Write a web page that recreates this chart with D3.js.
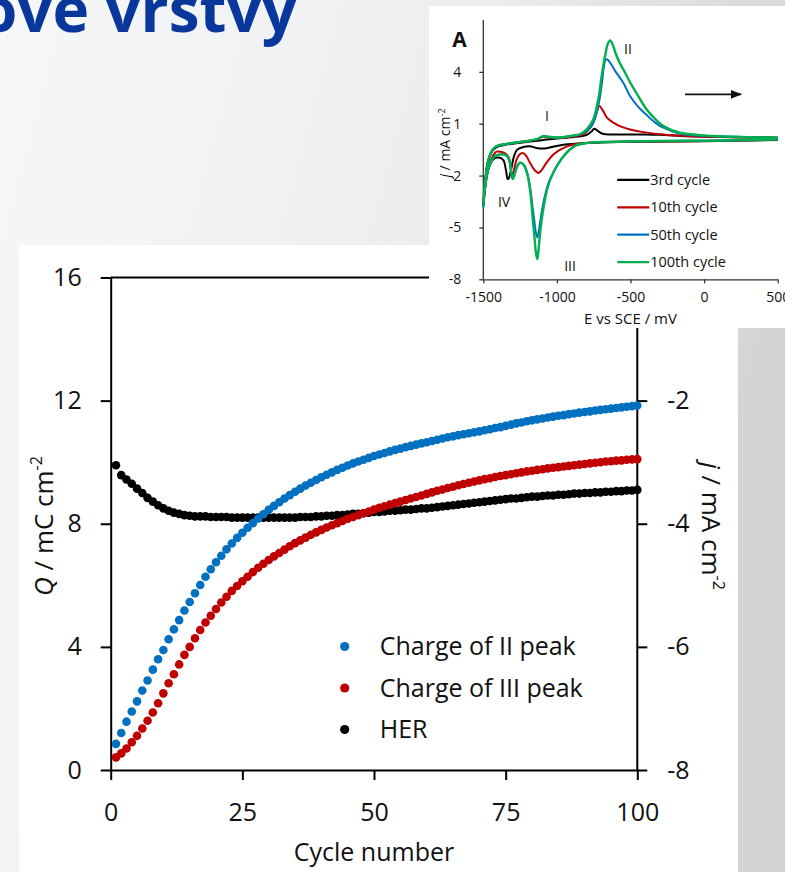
<!DOCTYPE html>
<html>
<head>
<meta charset="utf-8">
<script src="https://cdn.jsdelivr.net/npm/d3@7"></script>
<style>
    body { margin: 0; padding: 0; overflow: hidden; }
    #chart-area { width: 785px; height: 872px; }
    text { font-family: "Open Sans", sans-serif; }
</style>
</head>
<body>
<div id="chart-area"></div>
<script>
// main chart data (cycle 1..100)
const charge2 = [0.85,1.20,1.57,1.90,2.23,2.58,2.91,3.26,3.60,3.90,
    4.25,4.57,4.87,5.18,5.46,5.74,6.01,6.28,6.52,6.75,
    6.96,7.17,7.36,7.54,7.71,7.87,8.02,8.17,8.31,8.45,
    8.58,8.70,8.82,8.93,9.04,9.14,9.24,9.33,9.42,9.51,
    9.59,9.67,9.75,9.82,9.89,9.96,10.02,10.08,10.14,10.20,
    10.25,10.30,10.35,10.40,10.44,10.49,10.53,10.57,10.61,10.65,
    10.69,10.73,10.77,10.81,10.84,10.88,10.91,10.94,10.97,11.00,
    11.04,11.07,11.11,11.14,11.18,11.22,11.26,11.29,11.33,11.36,
    11.39,11.42,11.45,11.48,11.51,11.53,11.56,11.58,11.61,11.63,
    11.65,11.68,11.70,11.72,11.74,11.76,11.78,11.80,11.82,11.84];
const charge3 = [0.41,0.54,0.70,0.90,1.11,1.35,1.60,1.87,2.17,2.49,
    2.82,3.11,3.43,3.74,4.00,4.28,4.55,4.79,5.01,5.23,
    5.44,5.63,5.82,5.98,6.13,6.28,6.43,6.57,6.70,6.82,
    6.94,7.05,7.16,7.27,7.37,7.46,7.55,7.64,7.72,7.80,
    7.88,7.95,8.02,8.09,8.16,8.22,8.28,8.34,8.40,8.46,
    8.52,8.57,8.62,8.67,8.72,8.77,8.82,8.87,8.92,8.97,
    9.02,9.07,9.11,9.16,9.20,9.25,9.29,9.33,9.37,9.41,
    9.45,9.48,9.52,9.55,9.58,9.61,9.64,9.67,9.70,9.72,
    9.75,9.77,9.80,9.82,9.84,9.86,9.88,9.90,9.92,9.94,
    9.96,9.98,10.00,10.02,10.03,10.05,10.06,10.08,10.09,10.10];
const her = [-3.05,-3.21,-3.28,-3.35,-3.43,-3.50,-3.58,-3.64,-3.70,-3.75,
    -3.79,-3.82,-3.84,-3.86,-3.87,-3.88,-3.88,-3.88,-3.89,-3.89,
    -3.89,-3.89,-3.90,-3.90,-3.90,-3.90,-3.90,-3.90,-3.90,-3.90,
    -3.90,-3.90,-3.90,-3.90,-3.90,-3.89,-3.89,-3.89,-3.88,-3.88,
    -3.87,-3.87,-3.86,-3.86,-3.85,-3.84,-3.84,-3.83,-3.82,-3.81,
    -3.81,-3.80,-3.79,-3.79,-3.78,-3.77,-3.77,-3.76,-3.75,-3.75,
    -3.74,-3.73,-3.72,-3.71,-3.70,-3.69,-3.68,-3.67,-3.66,-3.65,
    -3.64,-3.63,-3.62,-3.61,-3.60,-3.59,-3.59,-3.58,-3.57,-3.56,
    -3.56,-3.55,-3.54,-3.54,-3.53,-3.53,-3.52,-3.51,-3.51,-3.50,
    -3.50,-3.49,-3.49,-3.48,-3.48,-3.47,-3.47,-3.46,-3.46,-3.45];
const seriesNames = ["Charge of II peak", "Charge of III peak", "HER"];
const seriesColors = ["#0070c0", "#c00000", "#000000"];
const xTicks = [0, 25, 50, 75, 100];
const qTicks = [0, 4, 8, 12, 16];
const jTicks = [-8, -6, -4, -2];

// inset CV curves: [E mV, j mA/cm2], cathodic branch then anodic branch
const cv3 = [[500,0.06],[0,-0.02],[-500,-0.05],[-750,-0.1],[-850,-0.15],[-957,-0.22],[-1050,-0.38],
    [-1092,-0.44],[-1140,-0.4],[-1183,-0.3],[-1230,-0.35],[-1270,-0.5],[-1292,-0.9],[-1312,-1.7],
    [-1326,-2.15],[-1334,-2.2],[-1346,-1.7],[-1364,-1.1],[-1398,-0.96],[-1432,-1.06],[-1466,-1.64],
    [-1489,-2.8],[-1500,-3.8],[-1488,-2.4],[-1468,-1.2],[-1440,-0.6],[-1410,-0.35],[-1350,-0.22],
    [-1290,-0.15],[-1200,-0.05],[-1100,0.05],[-1000,0.15],[-900,0.22],[-800,0.35],[-765,0.55],
    [-746,0.71],[-725,0.6],[-690,0.42],[-600,0.38],[-400,0.38],[-300,0.36],[-100,0.28],[200,0.22],[500,0.19]];
const cv10 = [[500,0.08],[0,0.0],[-500,-0.04],[-750,-0.08],[-850,-0.15],[-950,-0.38],[-1020,-0.75],
    [-1070,-1.25],[-1105,-1.7],[-1126,-1.85],[-1150,-1.7],[-1180,-1.3],[-1210,-0.85],[-1232,-0.7],
    [-1255,-0.8],[-1275,-1.1],[-1292,-1.7],[-1303,-2.05],[-1312,-1.7],[-1325,-1.0],[-1345,-0.75],
    [-1380,-0.62],[-1410,-0.62],[-1440,-0.95],[-1470,-1.7],[-1490,-2.9],[-1500,-3.75],[-1487,-2.3],
    [-1466,-1.1],[-1440,-0.55],[-1410,-0.3],[-1350,-0.18],[-1290,-0.1],[-1200,0.0],[-1130,0.1],
    [-1095,0.25],[-1060,0.22],[-1000,0.18],[-900,0.25],[-820,0.4],[-770,0.8],[-735,1.5],[-712,2.02],
    [-690,1.8],[-660,1.35],[-617,1.06],[-560,0.82],[-503,0.67],[-400,0.5],[-277,0.37],[-100,0.28],
    [200,0.22],[500,0.19]];
const cv50 = [[500,0.1],[300,0.05],[0,0.02],[-300,0.0],[-500,-0.02],[-700,-0.06],[-800,-0.12],
    [-870,-0.25],[-920,-0.55],[-970,-1.05],[-1020,-1.75],[-1060,-2.5],[-1090,-3.5],[-1112,-4.6],
    [-1126,-5.35],[-1133,-5.58],[-1142,-5.35],[-1152,-4.7],[-1164,-3.9],[-1180,-2.8],[-1200,-1.9],
    [-1225,-1.38],[-1250,-1.25],[-1272,-1.5],[-1290,-2.0],[-1300,-2.2],[-1310,-1.8],[-1322,-1.15],
    [-1340,-0.85],[-1385,-0.77],[-1430,-0.95],[-1465,-1.6],[-1490,-2.8],[-1500,-3.85],[-1487,-2.3],
    [-1466,-1.1],[-1440,-0.55],[-1410,-0.3],[-1350,-0.18],[-1290,-0.1],[-1200,0.0],[-1130,0.12],
    [-1095,0.28],[-1060,0.25],[-1000,0.2],[-900,0.3],[-840,0.4],[-790,0.62],[-750,1.1],[-715,2.2],
    [-692,3.5],[-680,4.35],[-668,4.72],[-652,4.68],[-630,4.42],[-600,4.0],[-549,3.37],[-503,2.6],
    [-450,2.0],[-390,1.5],[-330,1.05],[-277,0.77],[-164,0.42],[0,0.3],[200,0.24],[500,0.19]];
const cv100 = [[500,0.1],[300,0.05],[0,0.02],[-300,0.0],[-500,-0.02],[-700,-0.06],[-800,-0.12],
    [-870,-0.25],[-920,-0.55],[-970,-1.05],[-1020,-1.75],[-1060,-2.6],[-1090,-3.8],[-1110,-5.0],
    [-1125,-6.3],[-1133,-6.83],[-1142,-6.5],[-1152,-5.6],[-1164,-4.5],[-1180,-3.0],[-1200,-1.95],
    [-1225,-1.38],[-1250,-1.25],[-1272,-1.5],[-1290,-2.0],[-1300,-2.2],[-1310,-1.8],[-1322,-1.15],
    [-1340,-0.85],[-1385,-0.77],[-1430,-0.95],[-1465,-1.6],[-1490,-2.8],[-1500,-3.75],[-1487,-2.3],
    [-1466,-1.1],[-1440,-0.55],[-1410,-0.3],[-1350,-0.18],[-1290,-0.1],[-1200,0.0],[-1130,0.12],
    [-1095,0.28],[-1060,0.25],[-1000,0.2],[-900,0.3],[-840,0.4],[-798,0.67],[-753,1.25],[-719,2.4],
    [-696,3.75],[-673,4.9],[-655,5.6],[-639,5.82],[-622,5.6],[-600,5.05],[-575,4.55],[-549,4.15],
    [-503,3.4],[-458,2.75],[-390,1.82],[-330,1.25],[-277,0.86],[-164,0.48],[63,0.29],[300,0.22],[500,0.19]];
const cvNames = ["3rd cycle", "10th cycle", "50th cycle", "100th cycle"];
const cvColors = ["#000000", "#c00000", "#0070c0", "#00b050"];
const eTicks = [-1500, -1000, -500, 0, 500];
const cvTicks = [-8, -5, -2, 1, 4];

const svg = d3.select("#chart-area").append("svg")
    .attr("width", 785)
    .attr("height", 872)

// slide background
const defs = svg.append("defs")
const grad = defs.append("linearGradient")
    .attr("id", "bg").attr("x1", "0").attr("y1", "0").attr("x2", "1").attr("y2", "0.3")
grad.append("stop").attr("offset", "0").attr("stop-color", "#f6f7f9")
grad.append("stop").attr("offset", "0.55").attr("stop-color", "#eceef0")
grad.append("stop").attr("offset", "1").attr("stop-color", "#d3d4d6")
svg.append("rect").attr("width", 785).attr("height", 872).attr("fill", "url(#bg)")

svg.append("text")
    .attr("x", 297).attr("y", 32)
    .attr("text-anchor", "end")
    .attr("font-size", 62)
    .attr("font-weight", 700)
    .attr("fill", "#0a379b")
    .text("ove vrstvy")

// ---------- main chart ----------
const MARGIN = { LEFT: 110.7, TOP: 277.5 };
const WIDTH = 526.6;
const HEIGHT = 492.5;

svg.append("rect").attr("x", 19).attr("y", 245).attr("width", 719).attr("height", 627).attr("fill", "#fff")

const g = svg.append("g")
    .attr("transform", `translate(${MARGIN.LEFT}, ${MARGIN.TOP})`)

const x = d3.scaleLinear().domain([0, 100]).range([0, WIDTH])
const yQ = d3.scaleLinear().domain([0, 16]).range([HEIGHT, 0])
const yJ = d3.scaleLinear().domain([-8, 0]).range([HEIGHT, 0])

const plain = d => String(d)

const styleAxis = sel => {
    sel.selectAll("path, line").attr("stroke", "#000").attr("stroke-width", 2)
    sel.selectAll("text").attr("font-size", 25).attr("fill", "#111").attr("font-family", "Open Sans")
}

g.append("g")
    .attr("transform", `translate(0, ${HEIGHT})`)
    .call(d3.axisBottom(x).tickValues(xTicks).tickFormat(plain).tickSize(10).tickPadding(23).tickSizeOuter(0))
    .call(styleAxis)

g.append("g")
    .call(d3.axisLeft(yQ).tickValues(qTicks).tickFormat(plain).tickSize(10).tickPadding(19).tickSizeOuter(0))
    .call(styleAxis)

g.append("g")
    .attr("transform", `translate(${WIDTH}, 0)`)
    .call(d3.axisRight(yJ).tickValues(jTicks).tickFormat(plain).tickSize(10).tickPadding(20).tickSizeOuter(0))
    .call(styleAxis)
    .select(".domain").attr("d", `M0,${HEIGHT}V0`)

g.append("line")
    .attr("x1", x(0)).attr("x2", x(100)).attr("y1", yQ(16)).attr("y2", yQ(16))
    .attr("stroke", "#000").attr("stroke-width", 2)

const cycles = charge2.map((d, i) => i + 1)

g.append("g").selectAll("circle").data(her).enter().append("circle")
    .attr("cx", (d, i) => x(cycles[i])).attr("cy", d => yJ(d)).attr("r", 4.3).attr("fill", seriesColors[2])
g.append("g").selectAll("circle").data(charge3).enter().append("circle")
    .attr("cx", (d, i) => x(cycles[i])).attr("cy", d => yQ(d)).attr("r", 4.3).attr("fill", seriesColors[1])
g.append("g").selectAll("circle").data(charge2).enter().append("circle")
    .attr("cx", (d, i) => x(cycles[i])).attr("cy", d => yQ(d)).attr("r", 4.3).attr("fill", seriesColors[0])

// legend
const legend = g.append("g").attr("transform", "translate(234, 369)")
seriesNames.forEach((name, i) => {
    legend.append("circle").attr("cx", 0).attr("cy", i * 41.5).attr("r", 4.6).attr("fill", seriesColors[i])
    legend.append("text").attr("x", 35).attr("y", i * 41.5).attr("dy", "0.35em")
        .attr("font-size", 25).attr("fill", "#111").text(name)
})

// axis titles
const qLabel = svg.append("text")
    .attr("transform", "translate(53, 526) rotate(-90)")
    .attr("text-anchor", "middle").attr("font-size", 26).attr("fill", "#111")
qLabel.append("tspan").attr("font-style", "italic").text("Q")
qLabel.append("tspan").text(" / mC cm")
qLabel.append("tspan").attr("font-size", 16).attr("dy", -11).text("-2")

const jLabel = svg.append("text")
    .attr("transform", "translate(702, 526) rotate(90)")
    .attr("text-anchor", "middle").attr("font-size", 26).attr("fill", "#111")
jLabel.append("tspan").attr("font-style", "italic").text("j")
jLabel.append("tspan").text(" / mA cm")
jLabel.append("tspan").attr("font-size", 16).attr("dy", -11).text("-2")

svg.append("text")
    .attr("x", x(50) + MARGIN.LEFT).attr("y", 861)
    .attr("text-anchor", "middle").attr("font-size", 25).attr("fill", "#111")
    .text("Cycle number")

// ---------- inset CV ----------
svg.append("rect").attr("x", 429).attr("y", 6).attr("width", 356).attr("height", 322).attr("fill", "#fff")

const IN = { LEFT: 483.3, TOP: 20, WIDTH: 294.4, HEIGHT: 259.3 };
const gi = svg.append("g").attr("transform", `translate(${IN.LEFT}, ${IN.TOP})`)

const xe = d3.scaleLinear().domain([-1500, 500]).range([0, IN.WIDTH])
const yc = d3.scaleLinear().domain([-8, 7]).range([IN.HEIGHT, 0])

const styleInset = sel => {
    sel.selectAll("path, line").attr("stroke", "#333").attr("stroke-width", 1.3)
    sel.selectAll("text").attr("font-size", 14).attr("fill", "#111").attr("font-family", "Open Sans")
}

gi.append("g")
    .attr("transform", `translate(0, ${IN.HEIGHT})`)
    .call(d3.axisBottom(xe).tickValues(eTicks).tickFormat(plain).tickSize(4).tickPadding(9).tickSizeOuter(0))
    .call(styleInset)

gi.append("g")
    .call(d3.axisLeft(yc).tickValues(cvTicks).tickFormat(plain).tickSize(4).tickPadding(18).tickSizeOuter(0))
    .call(styleInset)
    .select(".domain").attr("d", `M0,${IN.HEIGHT}V0`)

const cvLine = d3.line()
    .x(d => xe(d[0]))
    .y(d => yc(d[1]))
    .curve(d3.curveCatmullRom.alpha(0.5))

const cvData = [cv3, cv10, cv50, cv100]
cvData.forEach((d, i) => {
    gi.append("path")
        .attr("d", cvLine(d))
        .attr("fill", "none")
        .attr("stroke", cvColors[i])
        .attr("stroke-width", i === 3 ? 2.4 : 2)
})

// peak labels
const peaks = [["I", -1067, 1.42], ["II", -517, 5.34], ["III", -911, -7.23], ["IV", -1359, -3.54]]
peaks.forEach(p => {
    gi.append("text").attr("x", xe(p[1])).attr("y", yc(p[2])).attr("dy", "0.35em")
        .attr("text-anchor", "middle").attr("font-size", 14).attr("fill", "#111").text(p[0])
})

defs.append("marker")
    .attr("id", "arrow").attr("viewBox", "0 0 10 10").attr("refX", 9).attr("refY", 5)
    .attr("markerWidth", 7).attr("markerHeight", 7).attr("orient", "auto")
    .append("path").attr("d", "M0,1L10,5L0,9Z").attr("fill", "#111")

gi.append("line")
    .attr("x1", xe(-130)).attr("x2", xe(250)).attr("y1", yc(2.7)).attr("y2", yc(2.7))
    .attr("stroke", "#111").attr("stroke-width", 1.6).attr("marker-end", "url(#arrow)")

gi.append("text").attr("x", -31).attr("y", 27).attr("font-size", 21).attr("font-weight", 700)
    .attr("fill", "#111").text("A")

const cvLegend = gi.append("g").attr("transform", `translate(${xe(-590)}, ${yc(-2.25)})`)
cvNames.forEach((name, i) => {
    cvLegend.append("line").attr("x1", 0).attr("x2", 32).attr("y1", i * 27.4).attr("y2", i * 27.4)
        .attr("stroke", cvColors[i]).attr("stroke-width", 2.2)
    cvLegend.append("text").attr("x", 33).attr("y", i * 27.4).attr("dy", "0.35em")
        .attr("font-size", 14.5).attr("fill", "#111").text(name)
})

const cvYLabel = svg.append("text")
    .attr("transform", "translate(450, 143) rotate(-90)")
    .attr("text-anchor", "middle").attr("font-size", 14).attr("fill", "#111")
cvYLabel.append("tspan").attr("font-style", "italic").text("j")
cvYLabel.append("tspan").text(" / mA cm")
cvYLabel.append("tspan").attr("font-size", 9).attr("dy", -5).text("-2")

svg.append("text")
    .attr("x", IN.LEFT + xe(-500)).attr("y", 324)
    .attr("text-anchor", "middle").attr("font-size", 15).attr("fill", "#111")
    .text("E vs SCE / mV")
</script>
</body>
</html>
